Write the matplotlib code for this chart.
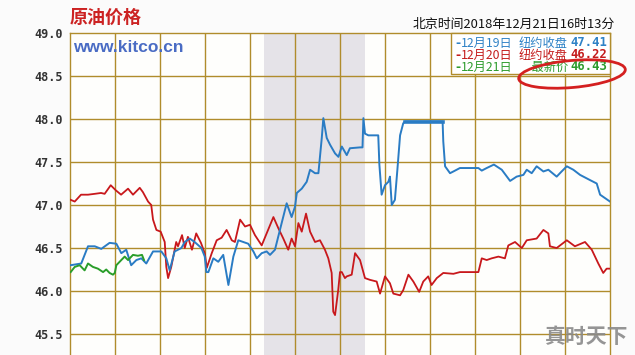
import matplotlib
matplotlib.use("Agg")
import matplotlib.pyplot as plt
from matplotlib.patches import Ellipse, Rectangle
from matplotlib.transforms import IdentityTransform

# hours since start of chart window (0-24), price in USD
blue_t = [0.03, 0.50, 0.80, 1.10, 1.39, 1.76, 2.06, 2.28, 2.50, 2.72, 2.95, 3.17, 3.39, 3.69,
          4.06, 4.28, 4.43, 4.65, 4.95, 5.10, 5.32, 5.54, 5.84, 5.99, 6.06, 6.15, 6.37, 6.59,
          6.81, 7.04, 7.26, 7.48, 7.70, 7.92, 8.15, 8.30, 8.52, 8.74, 8.89, 9.11, 9.33, 9.63,
          9.85, 10.00, 10.08, 10.30, 10.52, 10.67, 10.89, 11.04, 11.19, 11.26, 11.41, 11.56,
          11.78, 11.93, 12.08, 12.30, 12.44, 12.89, 13.00, 13.04, 13.11, 13.26, 13.70, 13.75,
          13.85, 14.00, 14.15, 14.22, 14.30, 14.44, 14.55, 14.67, 14.81, 14.89, 16.56, 16.59,
          16.67, 16.89, 17.04, 17.33, 18.15, 18.30, 18.52, 18.84, 19.19, 19.56, 19.85, 20.15,
          20.30, 20.52, 20.74, 21.04, 21.26, 21.63, 21.85, 22.08, 22.37, 22.67, 23.11, 23.41,
          23.56, 23.78, 24.00]
blue_v = [46.30, 46.32, 46.52, 46.52, 46.49, 46.56, 46.55, 46.44, 46.48, 46.30, 46.36, 46.38,
          46.32, 46.46, 46.46, 46.38, 46.24, 46.46, 46.50, 46.57, 46.61, 46.57, 46.50, 46.40,
          46.22, 46.22, 46.38, 46.34, 46.42, 46.07, 46.40, 46.59, 46.57, 46.55, 46.46, 46.38,
          46.44, 46.46, 46.42, 46.48, 46.71, 47.02, 46.86, 46.98, 47.14, 47.19, 47.27, 47.41,
          47.37, 47.37, 47.78, 48.01, 47.78, 47.70, 47.60, 47.56, 47.68, 47.58, 47.66, 47.67,
          47.67, 48.01, 47.83, 47.81, 47.81, 47.47, 47.12, 47.23, 47.27, 47.33, 47.00, 47.06,
          47.41, 47.81, 47.95, 47.97, 47.97, 47.74, 47.45, 47.37, 47.39, 47.43, 47.43, 47.40,
          47.43, 47.47, 47.41, 47.28, 47.33, 47.35, 47.41, 47.37, 47.45, 47.39, 47.41, 47.33,
          47.39, 47.45, 47.41, 47.35, 47.29, 47.25, 47.12, 47.08, 47.04]

red_t = [0.03, 0.21, 0.49, 0.80, 1.10, 1.38, 1.54, 1.81, 2.04, 2.27, 2.58, 2.80, 3.10, 3.24,
         3.47, 3.61, 3.69, 3.84, 4.03, 4.21, 4.28, 4.36, 4.50, 4.72, 4.80, 4.98, 5.10, 5.24,
         5.42, 5.61, 5.82, 5.99, 6.08, 6.30, 6.52, 6.74, 6.96, 7.19, 7.33, 7.56, 7.78, 8.00,
         8.22, 8.52, 8.74, 9.04, 9.26, 9.48, 9.70, 9.85, 10.00, 10.15, 10.30, 10.49, 10.67,
         10.89, 11.11, 11.33, 11.48, 11.63, 11.70, 11.78, 11.92, 12.00, 12.08, 12.22, 12.30,
         12.52, 12.67, 12.89, 13.11, 13.33, 13.63, 13.78, 14.00, 14.22, 14.37, 14.67, 14.81,
         15.04, 15.26, 15.52, 15.70, 15.92, 16.07, 16.30, 16.59, 17.04, 17.33, 18.15, 18.30,
         18.52, 18.74, 19.04, 19.33, 19.48, 19.78, 20.08, 20.30, 20.74, 21.04, 21.26, 21.33,
         21.63, 22.08, 22.44, 22.89, 23.19, 23.48, 23.70, 23.85, 24.00]
red_v = [47.06, 47.04, 47.12, 47.12, 47.13, 47.14, 47.13, 47.23, 47.17, 47.12, 47.19, 47.12,
         47.20, 47.15, 47.04, 47.00, 46.83, 46.71, 46.69, 46.57, 46.28, 46.15, 46.28, 46.57,
         46.52, 46.65, 46.50, 46.63, 46.48, 46.67, 46.56, 46.44, 46.27, 46.44, 46.59, 46.62,
         46.71, 46.59, 46.57, 46.83, 46.75, 46.77, 46.65, 46.53, 46.67, 46.86, 46.73, 46.61,
         46.48, 46.61, 46.52, 46.79, 46.69, 46.90, 46.69, 46.57, 46.59, 46.48, 46.38, 46.21,
         45.76, 45.72, 46.01, 46.22, 46.22, 46.15, 46.17, 46.19, 46.44, 46.36, 46.15, 46.13,
         46.11, 45.97, 46.17, 46.09, 45.97, 45.95, 46.01, 46.19, 46.11, 45.99, 46.11, 46.17,
         46.07, 46.15, 46.21, 46.20, 46.22, 46.22, 46.38, 46.36, 46.38, 46.40, 46.38, 46.53,
         46.57, 46.50, 46.59, 46.61, 46.71, 46.67, 46.52, 46.50, 46.59, 46.52, 46.57, 46.48,
         46.32, 46.21, 46.26, 46.26]

green_t = [0.03, 0.21, 0.43, 0.65, 0.80, 1.02, 1.24, 1.47, 1.61, 1.76, 1.91, 1.99, 2.06, 2.28,
           2.43, 2.58, 2.80, 3.02, 3.20, 3.29]
green_v = [46.22, 46.28, 46.30, 46.24, 46.32, 46.28, 46.26, 46.22, 46.25, 46.21, 46.19, 46.21,
           46.30, 46.36, 46.40, 46.36, 46.42, 46.41, 46.42, 46.36]

yticks = [45.5, 46.0, 46.5, 47.0, 47.5, 48.0, 48.5, 49.0]
legend_rows = [("12月19日", "纽约收盘", "47.41", "#2f82c6"),
               ("12月20日", "纽约收盘", "46.22", "#c41c1c"),
               ("12月21日", "  最新价", "46.43", "#2d9c2d")]

cjk = ['Noto Sans CJK SC', 'DejaVu Sans']
grid_c = '#b08c2c'

fig = plt.figure(figsize=(6.35, 3.55), dpi=100, facecolor='#fbfbfb')
ax = fig.add_axes([70/635, 0, 540/635, 322/355])
ax.set_facecolor('#fefefc')
ax.set_xlim(0, 24)
ax.set_ylim(45.256, 49.0)

ax.axvspan(8.62, 13.11, color='#e5e3e8', lw=0, zorder=0)
for x in range(2, 24, 2):
    ax.axvline(x, color=grid_c, lw=1, zorder=1)
for y in yticks[:-1]:
    ax.axhline(y, color=grid_c, lw=1, zorder=1)

ax.plot(red_t, red_v, color='#c8181c', lw=1.3, zorder=3)
ax.plot(blue_t, blue_v, color='#2a7cc4', lw=1.4, zorder=4)
ax.plot([14.89, 16.56], [47.97, 47.97], color='#2a7cc4', lw=2.6, zorder=4)
ax.plot(green_t, green_v, color='#2a9e2a', lw=1.4, zorder=5)

ax.set_xticks([])
ax.set_yticks(yticks)
ax.set_yticklabels(['%.1f' % v for v in yticks], family='DejaVu Sans Mono',
                   fontweight='bold', fontsize=8.5, color='#333333')
ax.tick_params(axis='y', length=0, pad=5)
for s in ['left', 'top', 'right']:
    ax.spines[s].set_color(grid_c)
    ax.spines[s].set_linewidth(1)
ax.spines['bottom'].set_visible(False)

# legend box, top right
box = Rectangle((451/635, 1 - 74/355), 159/635, 41/355, transform=fig.transFigure,
                facecolor='white', edgecolor=grid_c, lw=1, zorder=6)
fig.patches.append(box)
for i, (day, lab, val, c) in enumerate(legend_rows):
    yy = 1 - (43 + 12*i)/355
    fig.text(455/635, yy, '-', color=c, fontsize=9, fontweight='bold', va='center', zorder=7)
    fig.text(461/635, yy, day, color=c, family=cjk, fontsize=8.8, va='center', zorder=7)
    fig.text(568/635, yy, lab, color=c, family=cjk, fontsize=8.8, va='center', ha='right', zorder=7)
    fig.text(607/635, yy, val, color=c, family='DejaVu Sans Mono', fontweight='bold',
             fontsize=8.8, va='center', ha='right', zorder=7)

ell = Ellipse((572, 355 - 74), 107, 27, angle=5, transform=IdentityTransform(),
              fill=False, edgecolor='#d42020', lw=2, zorder=8)
fig.patches.append(ell)

fig.text(70/635, 1 - 17/355, '原油价格', color='#cc2222', family=cjk, fontweight='bold',
         fontsize=13, va='center')
fig.text(73/635, 1 - 47/355, 'www.kitco.cn', color='#4a6cc4', family='Liberation Sans',
         fontweight='bold', fontsize=12.5, va='center')
fig.text(615/635, 1 - 24/355, '北京时间2018年12月21日16时13分', color='#111111', family=cjk,
         fontsize=9.3, va='center', ha='right')
fig.text(628/635, 1 - 336/355, '真时天下', color='#8a8a8a', family=cjk, fontweight='bold',
         fontsize=15, va='center', ha='right', alpha=0.9)

fig.savefig('out.png', dpi=100, facecolor=fig.get_facecolor())
